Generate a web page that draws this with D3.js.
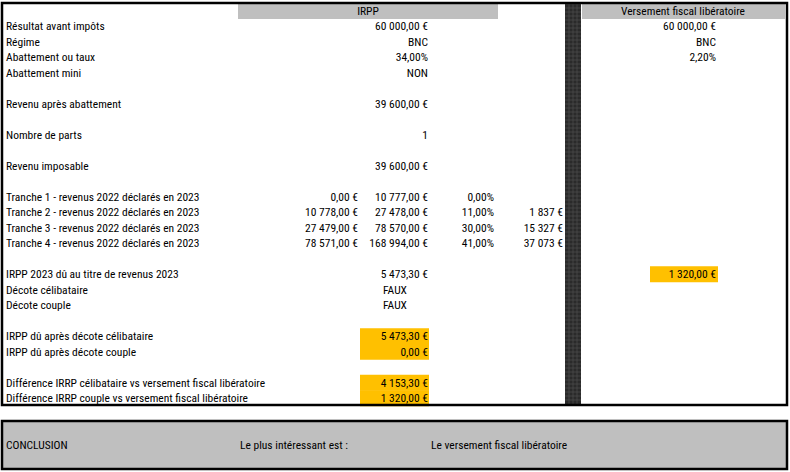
<!DOCTYPE html>
<html><head><meta charset="utf-8">
<script src="https://cdn.jsdelivr.net/npm/d3@7"></script>
<style>body{margin:0;background:#fff}text{font-family:"Liberation Sans Narrow","Roboto Condensed","Liberation Sans",sans-serif;font-size:11.5px;fill:#000}</style>
</head><body><div id="sheet"></div>
<script>
// rows of the sheet (null = blank row)
const labels = ["Résultat avant impôts","Régime","Abattement ou taux","Abattement mini",null,
  "Revenu après abattement",null,"Nombre de parts",null,"Revenu imposable",null,
  "Tranche 1 - revenus 2022 déclarés en 2023","Tranche 2 - revenus 2022 déclarés en 2023",
  "Tranche 3 - revenus 2022 déclarés en 2023","Tranche 4 - revenus 2022 déclarés en 2023",null,
  "IRPP 2023 dû au titre de revenus 2023","Décote célibataire","Décote couple",null,
  "IRPP dû après décote célibataire","IRPP dû après décote couple",null,
  "Différence IRRP célibataire vs versement fiscal libératoire","Différence IRRP couple vs versement fiscal libératoire"];
const irppValues = ["60 000,00 €","BNC","34,00%","NON",null,"39 600,00 €",null,"1",null,"39 600,00 €",null,
  "10 777,00 €","27 478,00 €","78 570,00 €","168 994,00 €",null,"5 473,30 €","FAUX","FAUX",null,
  "5 473,30 €","0,00 €",null,"4 153,30 €","1 320,00 €"];
const irppHighlight = [20,21,23,24];
const centered = [17,18];
const trancheLow = ["0,00 €","10 778,00 €","27 479,00 €","78 571,00 €"];
const trancheRate = ["0,00%","11,00%","30,00%","41,00%"];
const trancheTax = [null,"1 837 €","15 327 €","37 073 €"];
const trancheStart = 11;
const vflValues = ["60 000,00 €","BNC","2,20%"];
const vflTotal = {row:16, value:"1 320,00 €"};
const conclusion = ["CONCLUSION","Le plus intéressant est :","Le versement fiscal libératoire"];

const W=790,H=472;
const svg=d3.select("#sheet").append("svg").attr("width",W).attr("height",H);
const y=d3.scaleLinear().domain([0,24]).range([26,398]); // row centre
const rowH=y(1)-y(0);
const yellow="#FFC000", grey="#BFBFBF";

// header cells
svg.append("rect").attr("x",238).attr("y",4).attr("width",260).attr("height",15).attr("fill",grey);
svg.append("text").attr("x",368).attr("y",15).attr("text-anchor","middle").text("IRPP");
svg.append("rect").attr("x",582).attr("y",4).attr("width",203).attr("height",15).attr("fill",grey);
svg.append("text").attr("x",683).attr("y",15).attr("text-anchor","middle").text("Versement fiscal libératoire");

// dark separator column
const sep=svg.append("g");
sep.append("rect").attr("x",565).attr("y",4).attr("width",16).attr("height",400).attr("fill","#2a2a2a");
d3.range(4,404,4).forEach(v=>sep.append("line").attr("x1",565).attr("x2",581).attr("y1",v).attr("y2",v).attr("stroke","#555").attr("stroke-width",0.6));
[569,573,577].forEach(v=>sep.append("line").attr("x1",v).attr("x2",v).attr("y1",4).attr("y2",404).attr("stroke","#555").attr("stroke-width",0.6));

// highlight cells
irppHighlight.forEach(i=>svg.append("rect").attr("x",360).attr("y",y(i)-rowH/2).attr("width",69).attr("height",rowH+0.5).attr("fill",yellow));
svg.append("rect").attr("x",650).attr("y",y(vflTotal.row)-rowH/2).attr("width",68).attr("height",rowH+0.5).attr("fill",yellow);

const tx=(x,i,s,anchor)=>{ if(s!=null) svg.append("text").attr("x",x).attr("y",y(i)+4).attr("text-anchor",anchor||"end").text(s); };
labels.forEach((l,i)=>tx(6,i,l,"start"));
irppValues.forEach((v,i)=>centered.includes(i)?tx(395,i,v,"middle"):tx(428,i,v));
trancheLow.forEach((v,k)=>tx(358,trancheStart+k,v));
trancheRate.forEach((v,k)=>tx(494,trancheStart+k,v));
trancheTax.forEach((v,k)=>tx(563,trancheStart+k,v));
vflValues.forEach((v,i)=>tx(716,i,v));
tx(716,vflTotal.row,vflTotal.value);

// outer border
svg.append("rect").attr("x",2).attr("y",3).attr("width",785).attr("height",402).attr("fill","none").attr("stroke","#000").attr("stroke-width",2.5);

// conclusion box
svg.append("rect").attr("x",2).attr("y",421).attr("width",785).attr("height",48).attr("fill",grey).attr("stroke","#000").attr("stroke-width",2.5);
[6,240,431].forEach((x,k)=>svg.append("text").attr("x",x).attr("y",449).text(conclusion[k]));
</script></body></html>
